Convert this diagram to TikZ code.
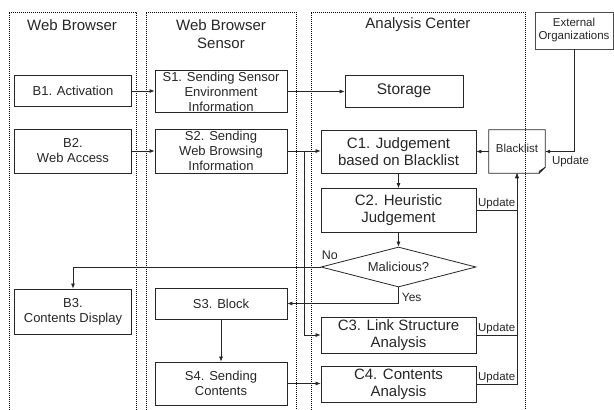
\documentclass[tikz,border=0pt]{standalone}
\usepackage{fontspec}
\setmainfont{Liberation Sans}
\usetikzlibrary{arrows.meta,shapes.geometric}

\tikzset{
  lane/.style={densely dotted, line width=1pt},
  lanetitle/.style={font=\fontsize{15}{18}\selectfont, align=center, text=black!85},
  bbox/.style={draw=black!85, line width=0.8pt, align=center, inner sep=1pt, text=black!85,
    font=\fontsize{13}{15}\selectfont},
  cbox/.style={bbox, font=\fontsize{15}{17}\selectfont},
  tiny/.style={font=\fontsize{11.5}{13}\selectfont, inner sep=1pt, text=black!85, align=center},
  arr/.style={-{Latex[length=5pt,width=4pt]}, line width=0.7pt, draw=black!85},
  link/.style={line width=0.7pt, draw=black!85}
}

\begin{document}
\begin{tikzpicture}[x=1pt, y=-1pt]
  \useasboundingbox (0,0) rectangle (614,410);

  % Lanes
  \draw[lane] (9,412) |- (136,12) -- (136,412);
  \draw[lane] (146,412) |- (296,12) -- (296,412);
  \draw[lane] (311,412) |- (525,12) -- (525,412);
  \node[lanetitle] (tb) at (72,25) {Web Browser};
  \node[lanetitle] (ts) at (221,34) {Web Browser\\Sensor};
  \node[lanetitle] (tc) at (418,25) {Analysis Center};

  % Nodes
  \node[bbox, minimum width=117pt, minimum height=31pt] (b1) at (73,91) {B1. Activation};
  \node[bbox, minimum width=117pt, minimum height=44pt] (b2) at (73,151) {B2.\\Web Access};
  \node[bbox, minimum width=117pt, minimum height=45pt] (b3) at (73,311.5) {B3.\\Contents Display};

  \node[bbox, minimum width=132pt, minimum height=39pt] (s1) at (221,91.5) {S1. Sending Sensor\\Environment\\Information};
  \node[bbox, minimum width=132pt, minimum height=44pt] (s2) at (221,151) {S2. Sending\\Web Browsing\\Information};
  \node[bbox, minimum width=132pt, minimum height=31pt] (s3) at (221,303.5) {S3. Block};
  \node[bbox, minimum width=132pt, minimum height=43pt] (s4) at (221,383.5) {S4. Sending\\Contents};

  \node[cbox, minimum width=118pt, minimum height=32pt, font=\fontsize{15.5}{18}\selectfont] (st) at (404,91) {Storage};
  \node[cbox, minimum width=155pt, minimum height=43pt] (c1) at (398.5,151.5) {C1. Judgement\\based on Blacklist};
  \node[cbox, minimum width=155pt, minimum height=44pt] (c2) at (398.5,210.5) {C2. Heuristic\\Judgement};
  \node[bbox, diamond, aspect=3.875, inner sep=0pt, minimum width=155pt, minimum height=40pt] (mal) at (398.5,267) {Malicious?};
  \node[cbox, minimum width=155pt, minimum height=36pt] (c3) at (398.5,335) {C3. Link Structure\\Analysis};
  \node[cbox, minimum width=155pt, minimum height=36pt] (c4) at (398.5,384) {C4. Contents\\Analysis};

  \node[tiny, minimum width=56pt, minimum height=43pt, text depth=6pt] (bl) at (517,151.5) {Blacklist};
  \draw[link] (bl.north west) -- (bl.north east) -- ([yshift=6pt]bl.south east)
    -- ([xshift=-6pt]bl.south east) -- (bl.south west) -- cycle;
  \draw[link, fill=black!35] ([yshift=6pt]bl.south east) -- ([xshift=-6pt,yshift=2pt]bl.south east)
    -- ([xshift=-6pt]bl.south east) -- cycle;
  \node[tiny, draw=black!70, line width=0.6pt, minimum width=78pt, minimum height=37pt] (ext) at (574,30.5) {External\\Organizations};

  \coordinate (split) at (304,151);

  % Edges
  \draw[arr] (b1.east) -- (b1.east -| s1.west);
  \draw[arr] (b2.east) -- (b2.east -| s2.west);
  \draw[arr] (s1.east) -- (s1.east -| st.west);
  \draw[arr] (s2.east) -- (s2.east -| c1.west);
  \draw[arr] (split) |- (c3.west);
  \draw[arr] (c1.south) -- (c2.north);
  \draw[arr] (c2.south) -- (mal.north);
  \draw[arr] (mal.west) -| (b3.north) node[tiny, pos=0, anchor=south west, yshift=6pt, font=\fontsize{12.5}{14}\selectfont] {No};
  \draw[arr] (mal.south) |- (s3.east) node[tiny, pos=0.3, right=2pt, font=\fontsize{12}{14}\selectfont] {Yes};
  \draw[arr] (s3.south) -- (s4.north);
  \draw[arr] (s4.east) -- (s4.east -| c4.west);
  \draw[arr] (bl.west) -- (bl.west -| c1.east);
  \draw[arr] (ext.south) |- (bl.east) node[tiny, pos=0.56, below=3pt] {Update};
  \draw[arr] (c2.east) -| (bl.south) node[tiny, pos=0.25, above] {Update};
  \draw[arr] (c3.east) -| (bl.south) node[tiny, pos=0.25, above] {Update};
  \draw[arr] (c4.east) -| (bl.south) node[tiny, pos=0.25, above] {Update};
\end{tikzpicture}
\end{document}
